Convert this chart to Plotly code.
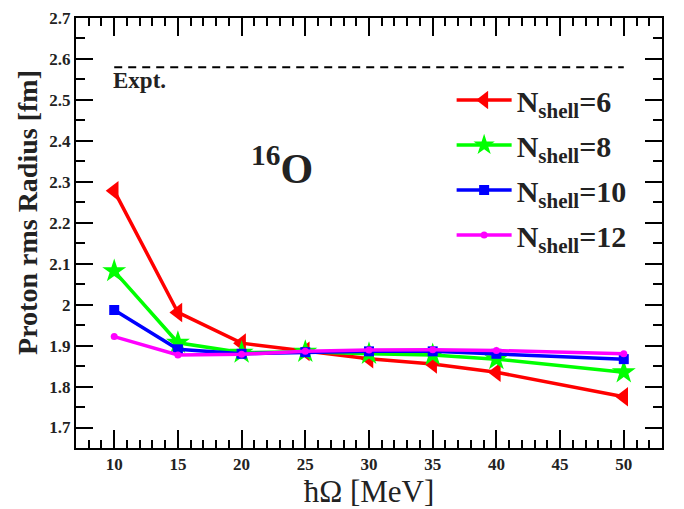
import plotly.graph_objects as go

hw = [10, 15, 20, 25, 30, 35, 40, 50]
n6 = [2.278, 1.981, 1.906, 1.886, 1.868, 1.855, 1.835, 1.775]
n8 = [2.082, 1.907, 1.883, 1.885, 1.880, 1.877, 1.867, 1.835]
n10 = [1.987, 1.891, 1.880, 1.884, 1.886, 1.886, 1.880, 1.867]
n12 = [1.922, 1.877, 1.879, 1.886, 1.889, 1.890, 1.888, 1.880]
expt_x = [10, 50]
expt_y = [2.58, 2.58]

FONT = "Liberation Serif"

series = [
    ("N<sub>shell</sub>=6", n6, "#ff0000", "triangle-left", 17),
    ("N<sub>shell</sub>=8", n8, "#00ff00", "star", 18),
    ("N<sub>shell</sub>=10", n10, "#0000ff", "square", 10),
    ("N<sub>shell</sub>=12", n12, "#ff00ff", "circle", 7),
]

fig = go.Figure()
fig.add_trace(go.Scatter(x=expt_x, y=expt_y, mode="lines",
                         line=dict(color="black", width=2, dash="8px,6px"),
                         showlegend=False, hoverinfo="skip"))
for i, (name, ys, col, sym, sz) in enumerate(series):
    fig.add_trace(go.Scatter(x=hw, y=ys, mode="lines+markers", name="<b>" + name + "</b>",
                             legendgroup="g%d" % i,
                             line=dict(color=col, width=3.5),
                             marker=dict(color=col, symbol=sym, size=sz, line=dict(width=0))))

fig.add_annotation(x=10, y=2.58, xref="x", yref="y", text="<b>Expt.</b>", showarrow=False,
                   xanchor="left", yanchor="top", yshift=1, xshift=-3,
                   font=dict(family=FONT, size=23, color="#222"))
fig.add_annotation(x=0.352, y=0.658, xref="paper", yref="paper", text="<b><sup>16</sup>O</b>",
                   showarrow=False, xanchor="center", yanchor="middle",
                   font=dict(family=FONT, size=42, color="#222"))
fig.add_annotation(x=(28 - 76) / 586, y=1 - (208 - 9) / 439, xref="paper", yref="paper",
                   text="<b>Proton rms Radius [fm]</b>",
                   showarrow=False, textangle=-90, xanchor="center", yanchor="middle",
                   font=dict(family=FONT, size=28, color="#222"))

axis_common = dict(showline=True, linewidth=2, linecolor="black", mirror="allticks",
                   ticks="inside", tickwidth=2, tickcolor="black", showgrid=False,
                   zeroline=False,
                   tickfont=dict(family=FONT, size=17, color="#222", weight="bold"))
fig.update_xaxes(range=[7, 53], dtick=5, tick0=0, ticklen=18,
                 minor=dict(dtick=1, ticklen=8, tickwidth=1.5, ticks="inside", tickcolor="black"),
                 title=dict(text="ħΩ [MeV]", font=dict(family=FONT, size=31, color="#222"), standoff=0),
                 **axis_common)
fig.update_yaxes(range=[1.65, 2.7], dtick=0.1, tick0=0, ticklen=17,
                 minor=dict(dtick=0.05, ticklen=9, tickwidth=1.5, ticks="inside", tickcolor="black"),
                 **axis_common)
fig.update_layout(
    width=684, height=509, margin=dict(l=76, r=22, t=9, b=61),
    paper_bgcolor="white", plot_bgcolor="white",
    legend=dict(x=0.641, y=0.87, xanchor="left", yanchor="top", bgcolor="rgba(0,0,0,0)",
                font=dict(family=FONT, size=30, color="#222"), tracegroupgap=3,
                itemwidth=55),
)
fig.write_html("out.html")
